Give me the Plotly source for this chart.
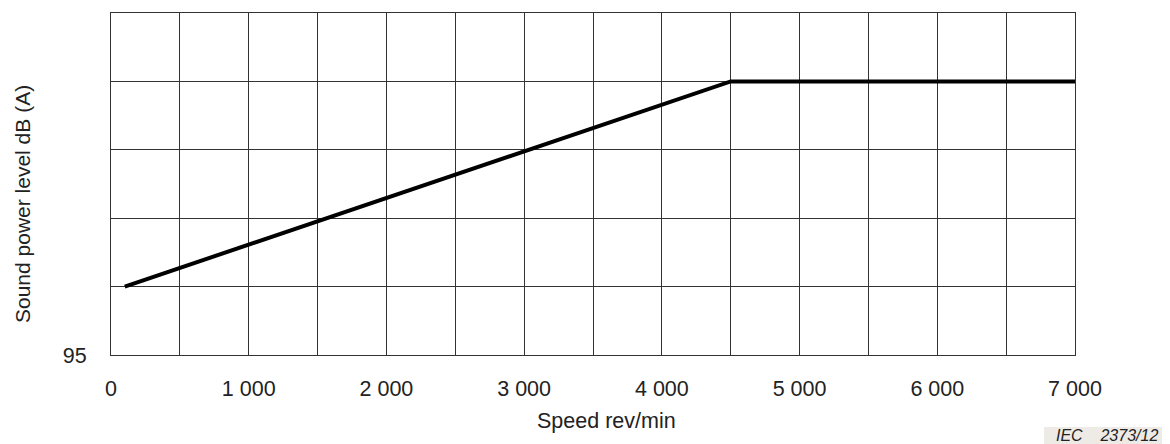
import plotly.graph_objects as go

# Data
speed = [100, 4500, 7000]
level = [100, 115, 115]

x_grid_vals = [0, 500, 1000, 1500, 2000, 2500, 3000, 3500, 4000, 4500, 5000, 5500, 6000, 6500, 7000]
x_tick_text = ["0", "", "1 000", "", "2 000", "", "3 000", "", "4 000", "", "5 000", "", "6 000", "", "7 000"]
y_grid_vals = [95, 100, 105, 110, 115, 120]
y_tick_text = ["95", "", "", "", "", ""]

x_title = "Speed rev/min"
y_title = "Sound power level dB (A)"
source_note = "IEC&nbsp;&nbsp;&nbsp;&nbsp;2373/12"

FONT = "Liberation Sans, Arial, sans-serif"

# figure is placed at (8, 8) in the page by body margin
W, H = 1162, 436
L, T, PW, PH = 103, 5, 964, 342


def px(xp):
    return (xp - 8 - L) / PW


def py(yp):
    return (T + PH - (yp - 8)) / PH


fig = go.Figure()
fig.add_trace(go.Scatter(
    x=speed, y=level, mode="lines",
    line=dict(color="black", width=4),
    showlegend=False, hoverinfo="skip",
))

fig.update_layout(
    width=W, height=H,
    margin=dict(l=L, r=W - L - PW, t=T, b=H - T - PH),
    paper_bgcolor="white", plot_bgcolor="white",
    font=dict(family=FONT, size=21.5, color="#222222"),
    xaxis=dict(
        range=[0, 7000], tickvals=x_grid_vals, ticktext=x_tick_text,
        showgrid=True, gridcolor="#333333", gridwidth=1,
        showline=True, linecolor="#333333", linewidth=1, mirror=True,
        zeroline=False, ticks="", ticklabelstandoff=14,
        tickfont=dict(size=21.5),
    ),
    yaxis=dict(
        range=[95, 120], tickvals=y_grid_vals, ticktext=y_tick_text,
        showgrid=True, gridcolor="#333333", gridwidth=1,
        showline=True, linecolor="#333333", linewidth=1, mirror=True,
        zeroline=False, ticks="", ticklabelstandoff=19,
        tickfont=dict(size=21.5),
    ),
)

# axis titles (offset from plot centre as in the reference)
fig.add_annotation(
    xref="paper", yref="paper", x=px(606), y=py(421),
    xanchor="center", yanchor="middle", text=x_title, showarrow=False,
    font=dict(family=FONT, size=21.5, color="#222222"),
)
fig.add_annotation(
    xref="paper", yref="paper", x=px(22), y=py(204),
    xanchor="center", yanchor="middle", text=y_title, showarrow=False,
    textangle=-90,
    font=dict(family=FONT, size=21, color="#222222"),
)

fig.add_shape(
    type="rect", xref="paper", yref="paper",
    x0=px(1044), x1=px(1170), y0=py(444), y1=py(427),
    fillcolor="#eeebe6", line=dict(width=0), layer="below",
)
fig.add_annotation(
    xref="paper", yref="paper",
    x=px(1107), y=py(435.5),
    xanchor="center", yanchor="middle",
    text="<i>" + source_note + "</i>",
    showarrow=False, borderpad=0,
    font=dict(family=FONT, size=16, color="#222222"),
)

fig.write_html("out.html")
